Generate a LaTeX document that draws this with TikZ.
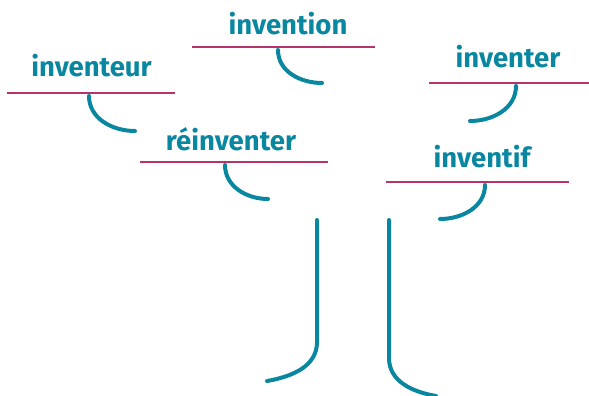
\documentclass[tikz,border=0pt]{standalone}
\usepackage{fontspec}
\setmainfont{Fira Sans}
\definecolor{teal}{HTML}{0A87A0}
\definecolor{magenta}{HTML}{B8336A}

\begin{document}
\begin{tikzpicture}[x=1pt, y=1pt,
		word/.style={teal,font=\fontsize{27.5}{32}\selectfont\bfseries,anchor=base,inner sep=0pt},
		branch/.style={magenta,line width=2.2pt},
		twig/.style={teal,line width=4pt,line cap=round}]
			\useasboundingbox (0,0) rectangle (589,-396);

			\node[word] (invention) at (288,-35) {invention};
			\node[word] (inventeur) at (91.5,-77) {inventeur};
			\node[word] (reinventer) at (231,-150) {réinventer};
			\node[word] (inventer) at (508,-67) {inventer};
			\node[word] (inventif) at (482,-167) {inventif};

			% lines under the words
			\coordinate (inventionL) at (192,-47);
			\coordinate (inventionR) at (375,-47);
			\coordinate (inventeurL) at (7,-93);
			\coordinate (inventeurR) at (175,-93);
			\coordinate (reinventerL) at (140,-162);
			\coordinate (reinventerR) at (328,-162);
			\coordinate (inventerL) at (429,-83);
			\coordinate (inventerR) at (589,-83);
			\coordinate (inventifL) at (386,-182);
			\coordinate (inventifR) at (569,-182);

			% hooks
			\coordinate (inventionT) at (278,-50);
			\coordinate (inventionE) at (322,-83);
			\coordinate (inventeurT) at (89,-96);
			\coordinate (inventeurE) at (135,-131);
			\coordinate (reinventerT) at (225,-165);
			\coordinate (reinventerE) at (268,-199);
			\coordinate (inventerT) at (516,-86);
			\coordinate (inventerE) at (470,-121);
			\coordinate (inventifT) at (485,-185);
			\coordinate (inventifE) at (440,-219);

			% trunk
			\coordinate (trunkLT) at (317,-220);
			\coordinate (trunkLB) at (317,-342);
			\coordinate (trunkLE) at (267,-381);
			\coordinate (trunkRT) at (389,-220);
			\coordinate (trunkRB) at (389,-358);
			\coordinate (trunkRE) at (436,-396);

			\draw[branch] (inventionL) -- (inventionR);
			\draw[branch] (inventeurL) -- (inventeurR);
			\draw[branch] (reinventerL) -- (reinventerR);
			\draw[branch] (inventerL) -- (inventerR);
			\draw[branch] (inventifL) -- (inventifR);

			\draw[twig] (inventionT) to[out=-90,in=180] (inventionE);
			\draw[twig] (inventeurT) to[out=-90,in=180] (inventeurE);
			\draw[twig] (reinventerT) to[out=-90,in=180] (reinventerE);
			\draw[twig] (inventerT) to[out=-90,in=0] (inventerE);
			\draw[twig] (inventifT) to[out=-90,in=0] (inventifE);

			\draw[twig] (trunkLT) -- (trunkLB) to[out=-90,in=10] (trunkLE);
			\draw[twig] (trunkRT) -- (trunkRB) to[out=-90,in=170] (trunkRE);
		\end{tikzpicture}
\end{document}
